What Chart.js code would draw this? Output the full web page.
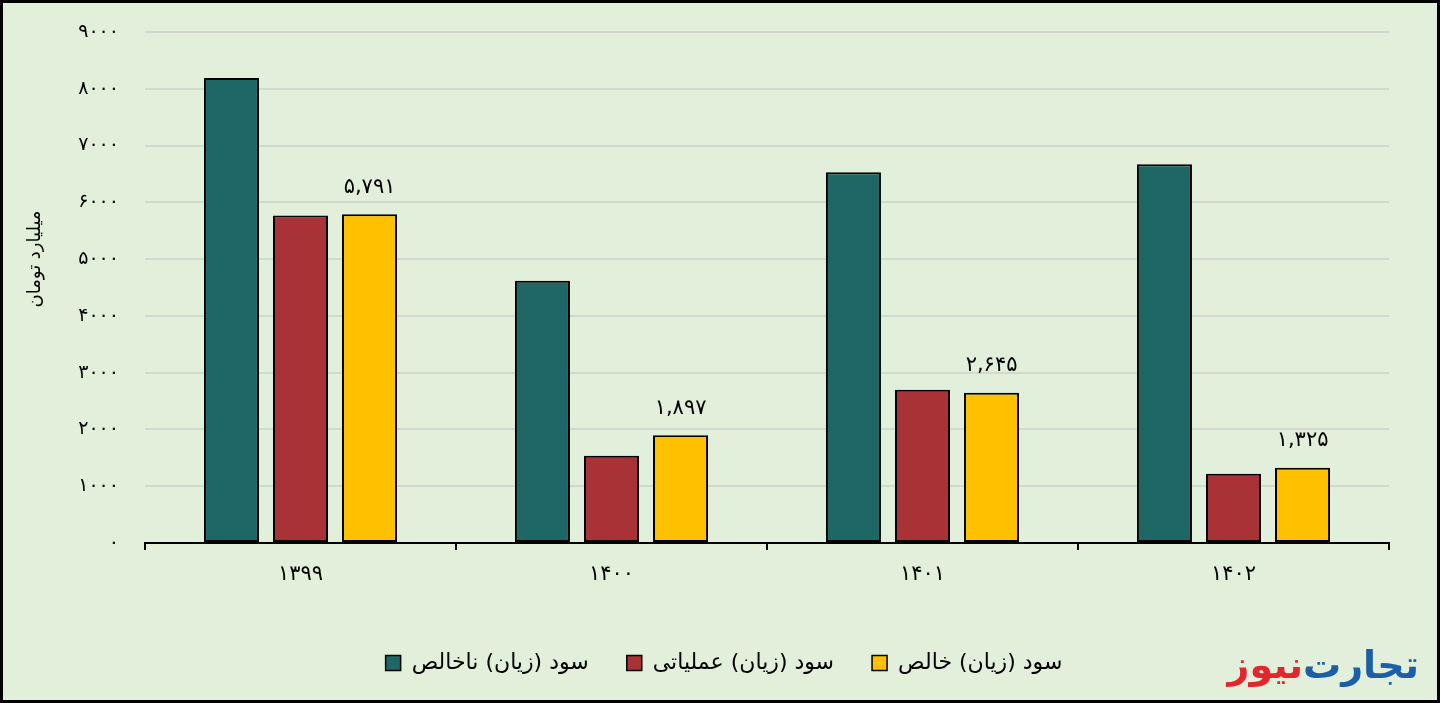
<!DOCTYPE html>
<html>
<head>
<meta charset="utf-8">
<script src="https://cdn.jsdelivr.net/npm/chart.js@4.4.0/dist/chart.umd.min.js"></script>
<style>
  html, body { margin: 0; padding: 0; background: #e2efda; }
  #frame {
    position: relative; width: 1440px; height: 703px; box-sizing: border-box;
    border: 3px solid #000; background: #e2efda; overflow: hidden;
  }
  #frame canvas { display: block; }
  #logo {
    position: absolute; right: 18px; bottom: 13px; direction: rtl;
    font-family: "DejaVu Sans", sans-serif; font-weight: bold; font-size: 38px; line-height: 44px;
  }
  #logo span { display: inline-block; }
</style>
</head>
<body>
<div id="frame">
  <canvas id="chart" width="1434" height="697"></canvas>
  <div id="logo"><span style="color:#1c5ea8">تجارت</span><span style="color:#e3262b">نیوز</span></div>
</div>
<script>
// ---------- data (values in billion toman) ----------
const years = ['1399', '1400', '1401', '1402'];
const grossProfit = [8190, 4620, 6530, 6670];     // سود (زیان) ناخالص
const operatingProfit = [5770, 1535, 2700, 1218]; // سود (زیان) عملیاتی
const netProfit = [5791, 1897, 2645, 1325];       // سود (زیان) خالص
const seriesNames = ['سود (زیان) ناخالص', 'سود (زیان) عملیاتی', 'سود (زیان) خالص'];
const yTicks = [0, 1000, 2000, 3000, 4000, 5000, 6000, 7000, 8000, 9000];
const yTitle = 'میلیارد تومان';

const FONT = '"DejaVu Sans", sans-serif';

// western -> persian digits
function fa(str) {
  const d = '۰۱۲۳۴۵۶۷۸۹';
  return String(str).replace(/[0-9]/g, c => d[+c]);
}

// value labels above the yellow bars + rotated y title
const labelPlugin = {
  id: 'netLabels',
  afterLayout(chart) {
    // legend in the original sits a little right of the canvas centre
    chart.legend.left += 28;
    chart.legend.right += 28;
  },
  afterDatasetsDraw(chart) {
    const ctx = chart.ctx;
    const meta = chart.getDatasetMeta(2);
    ctx.save();
    ctx.font = '21px ' + FONT;
    ctx.fillStyle = '#000';
    ctx.textAlign = 'center';
    ctx.textBaseline = 'middle';
    meta.data.forEach((bar, i) => {
      ctx.fillText(fa(netProfit[i].toLocaleString('en-US')), bar.x, bar.y - 27);
    });
    ctx.restore();

    // y axis title
    ctx.save();
    ctx.translate(32, 256);
    ctx.rotate(-Math.PI / 2);
    ctx.font = '18px ' + FONT;
    ctx.fillStyle = '#000';
    ctx.textAlign = 'center';
    ctx.textBaseline = 'middle';
    ctx.fillText(yTitle, 0, 0);
    ctx.restore();
  }
};

const ctx = document.getElementById('chart').getContext('2d');
new Chart(ctx, {
  type: 'bar',
  data: {
    labels: years.map(fa),
    datasets: [
      { label: seriesNames[0], data: grossProfit, backgroundColor: '#1f6766' },
      { label: seriesNames[1], data: operatingProfit, backgroundColor: '#a83235' },
      { label: seriesNames[2], data: netProfit, backgroundColor: '#ffc000' }
    ].map(ds => Object.assign(ds, {
      borderColor: '#000', borderWidth: 2, borderSkipped: false,
      categoryPercentage: 0.666, barPercentage: 0.797
    }))
  },
  plugins: [labelPlugin],
  options: {
    animation: false,
    responsive: false,
    layout: { padding: { top: 29, right: 48, bottom: 16, left: 0 } },
    scales: {
      x: {
        grid: { drawOnChartArea: false, drawTicks: true, tickLength: 7, color: '#000', lineWidth: 2, offset: true },
        border: { display: true, color: '#000', width: 2 },
        ticks: { color: '#000', font: { family: FONT, size: 21 }, padding: 12 },
        afterFit(scale) { scale.height = 71; scale.paddingLeft = 0; scale.paddingRight = 0; }
      },
      y: {
        min: 0, max: 9000,
        afterBuildTicks(scale) { scale.ticks = yTicks.map(v => ({ value: v })); },
        grid: { color: '#d3d8cf', lineWidth: 2, drawTicks: false },
        border: { display: false },
        ticks: { color: '#000', font: { family: FONT, size: 19 }, padding: 26, callback: v => fa(v) },
        afterFit(scale) { scale.width = 142; scale.paddingTop = 0; scale.paddingBottom = 0; }
      }
    },
    plugins: {
      tooltip: { enabled: false },
      legend: {
        position: 'bottom',
        labels: {
          color: '#000', font: { family: FONT, size: 22 },
          boxWidth: 15, boxHeight: 15, padding: 38,
          generateLabels(chart) {
            return chart.data.datasets.map((ds, i) => ({
              text: ds.label, fillStyle: ds.backgroundColor, strokeStyle: '#000', lineWidth: 1.5, datasetIndex: i
            }));
          }
        }
      }
    }
  }
});
</script>
</body>
</html>
